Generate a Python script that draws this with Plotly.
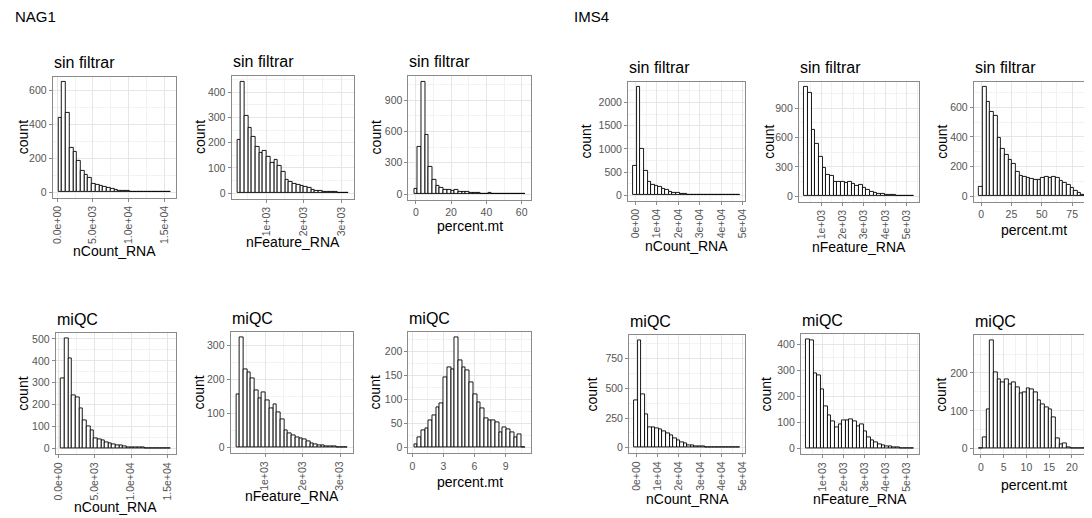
import plotly.graph_objects as go

W, H = 1092, 518
OFF = 8  # the page body has an 8px default margin; reference pixel boxes are shifted by it

# ---------------- data (30-bin histograms) ----------------
# NAG1, sin filtrar
nag1_raw_ncount_start, nag1_raw_ncount_width = 140, 523.7
nag1_raw_ncount = [439, 648, 468, 261, 240, 184, 124, 100, 83, 48, 41, 37, 29, 23, 17,
                   14, 10, 8, 5, 4, 3, 3, 3, 2, 1, 1, 1, 1, 1, 1]
nag1_raw_nfeat_start, nag1_raw_nfeat_width = 225, 98.8
nag1_raw_nfeat = [211, 443, 306, 257, 224, 185, 161, 168, 145, 119, 132, 106, 86, 53, 46,
                  37, 32, 28, 26, 20, 13, 10, 7, 5, 4, 4, 3, 2, 2, 1]
nag1_raw_mt_start, nag1_raw_mt_width = -1.05, 2.1
nag1_raw_mt = [50, 456, 1080, 572, 257, 135, 77, 61, 42, 35, 30, 35, 25, 20, 18,
               12, 10, 8, 6, 6, 7, 4, 3, 2, 2, 1, 1, 1, 1, 1]
# NAG1, miQC
nag1_qc_ncount_start, nag1_qc_ncount_width = 335, 504
nag1_qc_ncount = [318, 500, 410, 243, 234, 184, 127, 100, 85, 48, 40, 37, 30, 25, 19,
                  16, 13, 10, 7, 6, 6, 4, 4, 3, 3, 2, 2, 3, 2, 2]
nag1_qc_nfeat_start, nag1_qc_nfeat_width = 230, 98.7
nag1_qc_nfeat = [157, 322, 230, 222, 204, 168, 145, 162, 140, 116, 126, 104, 82, 50, 41,
                 36, 31, 28, 24, 19, 13, 10, 7, 6, 4, 4, 3, 2, 1, 1]
nag1_qc_mt_start, nag1_qc_mt_width = 0.15, 0.358
nag1_qc_mt = [7, 21, 37, 41, 56, 67, 84, 93, 146, 167, 163, 229, 182, 167, 161,
              137, 111, 95, 82, 62, 57, 56, 52, 31, 43, 38, 31, 21, 27, 1]
# IMS4, sin filtrar
ims4_raw_ncount_start, ims4_raw_ncount_width = -900, 1650
ims4_raw_ncount = [626, 2327, 996, 534, 292, 228, 206, 178, 142, 107, 78, 57, 43, 28, 21,
                   15, 12, 10, 8, 6, 5, 4, 3, 3, 2, 2, 1, 1, 1, 1]
ims4_raw_nfeat_start, ims4_raw_nfeat_width = 220, 170
ims4_raw_nfeat = [1114, 1060, 679, 537, 401, 292, 221, 204, 143, 143, 143, 136, 146, 129, 105,
                  115, 85, 61, 48, 34, 24, 20, 17, 14, 10, 7, 5, 4, 3, 2]
ims4_raw_mt_start, ims4_raw_mt_width = -1.5, 3.0
ims4_raw_mt = [61, 735, 636, 566, 541, 392, 317, 276, 247, 220, 163, 136, 129, 125, 115,
               113, 109, 122, 129, 122, 131, 122, 102, 88, 75, 54, 36, 23, 9, 5]
# IMS4, miQC
ims4_qc_ncount_start, ims4_qc_ncount_width = -900, 1650
ims4_qc_ncount = [400, 900, 449, 281, 173, 170, 165, 153, 136, 119, 102, 82, 60, 45, 34,
                  23, 17, 14, 11, 9, 6, 5, 4, 3, 2, 2, 1, 1, 1, 1]
ims4_qc_nfeat_start, ims4_qc_nfeat_width = 220, 170
ims4_qc_nfeat = [418, 415, 290, 282, 227, 161, 127, 106, 80, 93, 110, 107, 112, 104, 84,
                 94, 65, 42, 31, 23, 15, 11, 9, 8, 6, 4, 3, 3, 2, 2]
ims4_qc_mt_start, ims4_qc_mt_width = -0.35, 0.8
ims4_qc_mt = [1, 31, 104, 285, 202, 184, 176, 182, 171, 174, 162, 145, 148, 160, 156,
              148, 128, 116, 110, 105, 84, 27, 12, 14, 3, 2, 1, 1, 1, 1]

# tick labels
nag1_ncount_ticks = [0, 5000, 10000, 15000]
nag1_ncount_labels = ["0.0e+00", "5.0e+03", "1.0e+04", "1.5e+04"]
nag1_nfeat_ticks = [1000, 2000, 3000]
nag1_nfeat_labels = ["1e+03", "2e+03", "3e+03"]
ims4_ncount_ticks = [0, 10000, 20000, 30000, 40000, 50000]
ims4_ncount_labels = ["0e+00", "1e+04", "2e+04", "3e+04", "4e+04", "5e+04"]
ims4_nfeat_ticks = [1000, 2000, 3000, 4000, 5000]
ims4_nfeat_labels = ["1e+03", "2e+03", "3e+03", "4e+03", "5e+03"]

group_labels = ["NAG1", "IMS4"]
panel_titles = ["sin filtrar", "miQC"]
var_titles = ["nCount_RNA", "nFeature_RNA", "percent.mt"]

# ---------------- layout of the 12 panels (pixel boxes in the reference) ----------------
FONT = "Liberation Sans"
BORDER = "#8a8a8a"
TICKCOL = "#555555"

panels = [
    # counts, start, width, (left,right,top,bottom), title, xtitle, xticks, xlabels, yticks, rotate, xtitle_y, ytitle_x, cut
    (nag1_raw_ncount, nag1_raw_ncount_start, nag1_raw_ncount_width, (49, 173, 76, 197), 0, 0,
     nag1_ncount_ticks, nag1_ncount_labels, [0, 200, 400, 600], True, 250, 19, False),
    (nag1_raw_nfeat, nag1_raw_nfeat_start, nag1_raw_nfeat_width, (229, 352, 75, 198), 0, 1,
     nag1_nfeat_ticks, nag1_nfeat_labels, [0, 100, 200, 300, 400], True, 241, 197, False),
    (nag1_raw_mt, nag1_raw_mt_start, nag1_raw_mt_width, (407, 530, 75, 199), 0, 2,
     [0, 20, 40, 60], None, [0, 300, 600, 900], False, 225, 374, False),
    (ims4_raw_ncount, ims4_raw_ncount_start, ims4_raw_ncount_width, (628, 746, 81, 200), 0, 0,
     ims4_ncount_ticks, ims4_ncount_labels, [0, 500, 1000, 1500, 2000], True, 245, 586, False),
    (ims4_raw_nfeat, ims4_raw_nfeat_start, ims4_raw_nfeat_width, (800, 921, 81, 201), 0, 1,
     ims4_nfeat_ticks, ims4_nfeat_labels, [0, 300, 600, 900], True, 246, 770, False),
    (ims4_raw_mt, ims4_raw_mt_start, ims4_raw_mt_width, (976, 1097, 81, 201), 0, 2,
     [0, 25, 50, 75], None, [0, 200, 400, 600], False, 229, 944, True),
    (nag1_qc_ncount, nag1_qc_ncount_start, nag1_qc_ncount_width, (52, 173, 333, 454), 1, 0,
     nag1_ncount_ticks, nag1_ncount_labels, [0, 100, 200, 300, 400, 500], True, 507, 19, False),
    (nag1_qc_nfeat, nag1_qc_nfeat_start, nag1_qc_nfeat_width, (228, 351, 332, 453), 1, 1,
     nag1_nfeat_ticks, nag1_nfeat_labels, [0, 100, 200, 300], True, 496, 196, False),
    (nag1_qc_mt, nag1_qc_mt_start, nag1_qc_mt_width, (407, 530, 332, 453), 1, 2,
     [0, 3, 6, 9], None, [0, 50, 100, 150, 200], False, 482, 373, False),
    (ims4_qc_ncount, ims4_qc_ncount_start, ims4_qc_ncount_width, (629, 746, 335, 453), 1, 0,
     ims4_ncount_ticks, ims4_ncount_labels, [0, 250, 500, 750], True, 499, 592, False),
    (ims4_qc_nfeat, ims4_qc_nfeat_start, ims4_qc_nfeat_width, (802, 921, 334, 454), 1, 1,
     ims4_nfeat_ticks, ims4_nfeat_labels, [0, 100, 200, 300, 400], True, 499, 767, False),
    (ims4_qc_mt, ims4_qc_mt_start, ims4_qc_mt_width, (976, 1097, 335, 454), 1, 2,
     [0, 5, 10, 15, 20], None, [0, 100, 200], False, 485, 943, True),
]


def px_x(p):
    return (p - OFF) / W


def px_y(p):
    return 1 - (p - OFF) / H


fig = go.Figure()
layout = {}
annotations = []
VISIBLE_RIGHT = W  # right edge of the browser window, in reference pixels

for i, (counts, start, bw, box, ti, vi, xt, xl, yt, rot, xty, ytx, cut) in enumerate(panels):
    n = i + 1
    sfx = "" if n == 1 else str(n)
    l, r, t, b = box
    centers = [start + (k + 0.5) * bw for k in range(len(counts))]
    span = bw * len(counts)
    x0 = start - 0.05 * span
    x1 = start + span + 0.05 * span
    right_px = r
    if cut:  # panel extends beyond the picture edge; crop it
        x1 = x0 + (x1 - x0) * (VISIBLE_RIGHT - l) / (r - l)
        right_px = VISIBLE_RIGHT
    ymax = max(counts)
    fig.add_trace(go.Bar(
        x=centers, y=counts, width=bw,
        marker=dict(color="white", line=dict(color="black", width=0.9)),
        xaxis="x" + sfx, yaxis="y" + sfx, showlegend=False,
        hovertemplate="%{x}: %{y}<extra></extra>",
    ))
    xstep = xt[1] - xt[0]
    ystep = yt[1] - yt[0]
    common = dict(showline=True, linecolor=BORDER, linewidth=1, ticks="outside", ticklen=3,
                  tickcolor=BORDER, tickwidth=1, showgrid=True, gridcolor="#e6e6e6", gridwidth=1,
                  zeroline=False, tickfont=dict(family=FONT, size=10.5, color=TICKCOL))
    layout["xaxis" + sfx] = dict(
        common, domain=[px_x(l), px_x(right_px)], range=[x0, x1], anchor="y" + sfx,
        mirror=True, tickmode="array", tickvals=xt,
        ticktext=xl if xl is not None else [str(v) for v in xt],
        tickangle=-90 if rot else 0,
        minor=dict(tick0=0, dtick=xstep / 2, showgrid=True, gridcolor="#f2f2f2", gridwidth=1, ticks=""),
    )
    layout["yaxis" + sfx] = dict(
        common, domain=[px_y(b), px_y(t)], range=[-0.05 * ymax, 1.05 * ymax], anchor="x" + sfx,
        mirror=False if cut else True, tickmode="array", tickvals=yt,
        minor=dict(tick0=0, dtick=ystep / 2, showgrid=True, gridcolor="#f2f2f2", gridwidth=1, ticks=""),
    )
    # panel title
    annotations.append(dict(text=panel_titles[ti], x=px_x(l - 1), y=px_y(t - 14), xref="paper", yref="paper",
                            xanchor="left", yanchor="middle", showarrow=False,
                            font=dict(family=FONT, size=16, color="black")))
    # x axis title
    annotations.append(dict(text=var_titles[vi], x=px_x((l + r) / 2), y=px_y(xty), xref="paper", yref="paper",
                            xanchor="center", yanchor="middle", showarrow=False,
                            font=dict(family=FONT, size=14, color="black")))
    # y axis title
    annotations.append(dict(text="count", x=px_x(ytx), y=px_y((t + b) / 2), xref="paper", yref="paper",
                            xanchor="center", yanchor="middle", textangle=-90, showarrow=False,
                            font=dict(family=FONT, size=14, color="black")))

for lab, xpx in zip(group_labels, [9, 572]):
    annotations.append(dict(text=lab, x=px_x(xpx), y=px_y(15.5), xref="paper", yref="paper",
                            xanchor="left", yanchor="middle", showarrow=False,
                            font=dict(family=FONT, size=15, color="black")))

fig.update_layout(
    width=W, height=H, margin=dict(l=0, r=0, t=0, b=0),
    paper_bgcolor="white", plot_bgcolor="white",
    font=dict(family=FONT, color="black"),
    annotations=annotations, bargap=0,
    **layout,
)

fig.write_html("out.html")
